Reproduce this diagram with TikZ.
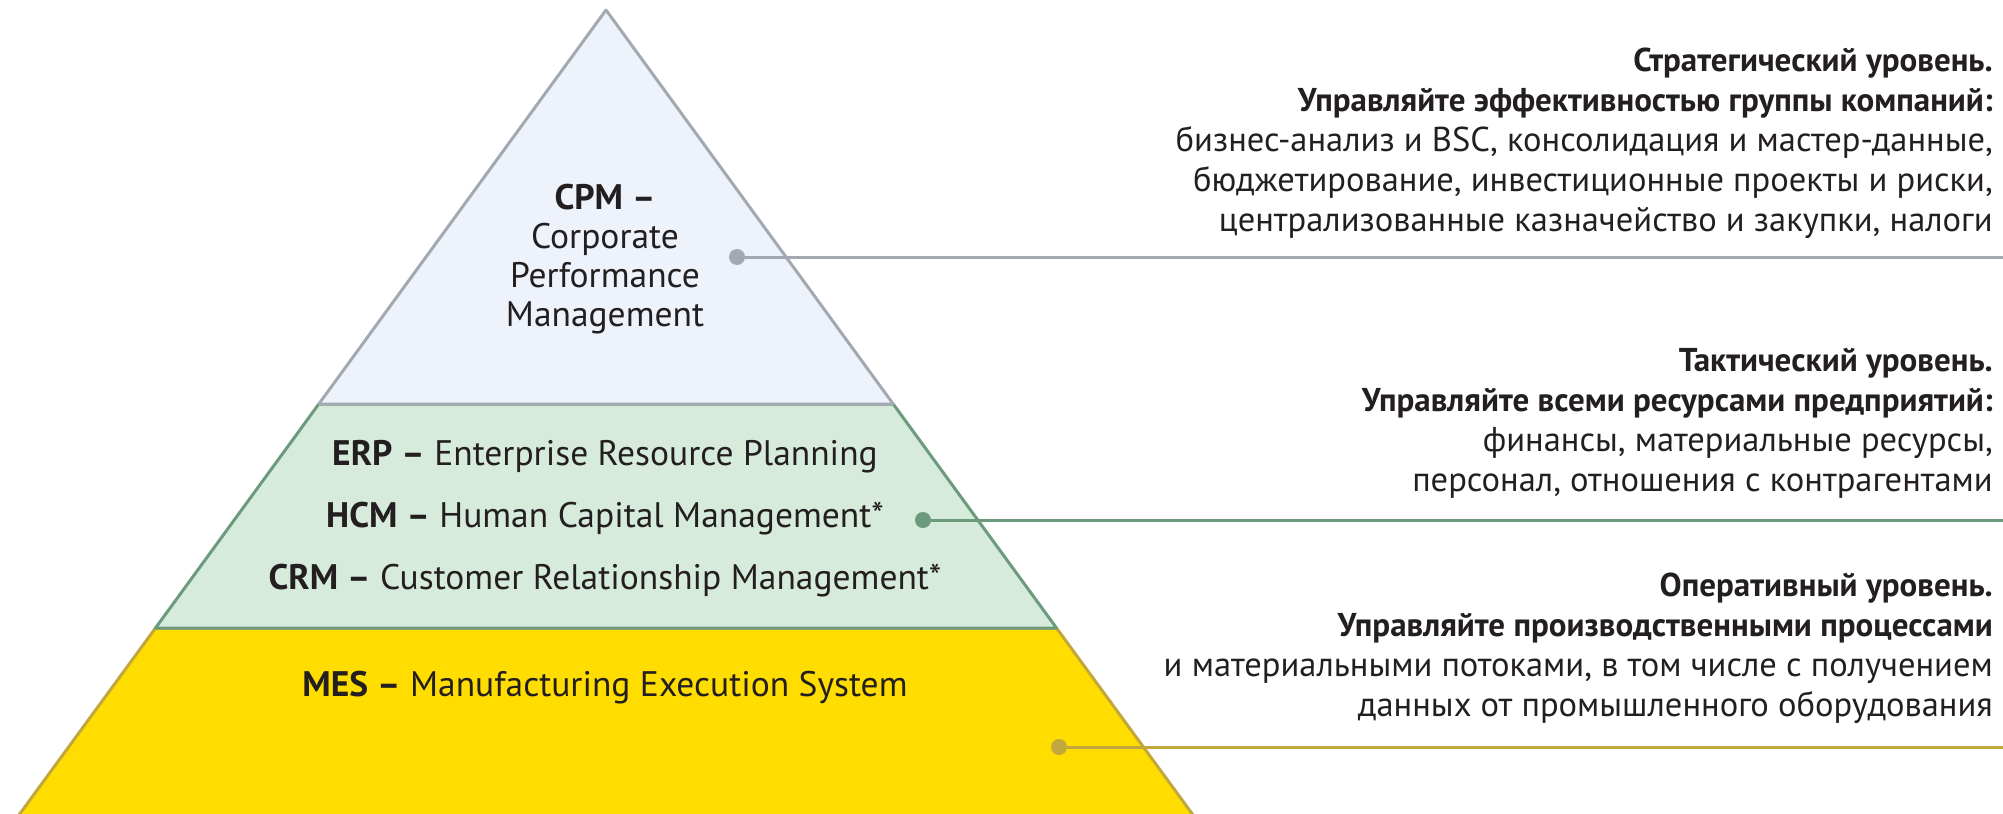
\documentclass[tikz,border=0pt]{standalone}
\usepackage{fontspec}
\setmainfont{PT Sans}
\usetikzlibrary{positioning,calc}

\definecolor{cpmfill}{HTML}{EEF3FB}
\definecolor{cpmline}{HTML}{A3A9B2}
\definecolor{erpfill}{HTML}{D7EBDC}
\definecolor{erpline}{HTML}{6C9A7C}
\definecolor{mesfill}{HTML}{FFDD00}
\definecolor{mesline}{HTML}{C2A73C}
\definecolor{txt}{HTML}{231F20}

\newcommand{\lvlhead}[1]{{\fontsize{33}{40}\selectfont\bfseries #1}}

\tikzset{
  band/.style={line width=3pt, line join=round},
  dot/.style={circle, fill=#1, inner sep=0pt, minimum size=16pt},
  lead/.style={line width=3pt, draw=#1},
  lvl/.style={align=right, anchor=north east, inner sep=0pt, text=txt,
    font=\fontsize{34.5}{40}\selectfont},
  sys/.style={align=center, inner sep=0pt, text=txt,
    font=\fontsize{35.5}{39}\selectfont},
}

\begin{document}
\begin{tikzpicture}[x=1pt,y=-1pt]
  % Pirâmide dos níveis de gestão
  \useasboundingbox (0,0) rectangle (2003,814);

  \filldraw[band, fill=mesfill, draw=mesline] (155.5,628) -- (1056.5,628) -- (1204,830) -- (8,830) -- cycle;
  \filldraw[band, fill=erpfill, draw=erpline] (318.8,404) -- (893.2,404) -- (1056.5,628) -- (155.5,628) -- cycle;
  \filldraw[band, fill=cpmfill, draw=cpmline] (606,10) -- (893.2,404) -- (318.8,404) -- cycle;

  \node[sys] (cpm) at (605,259) {\textbf{CPM –}\\Corporate\\Performance\\Management};
  \node[sys] (erp) at (605,457) {\textbf{ERP –} Enterprise Resource Planning};
  \node[sys] (hcm) at (605,519) {\textbf{HCM –} Human Capital Management*};
  \node[sys] (crm) at (605,581) {\textbf{CRM –} Customer Relationship Management*};
  \node[sys] (mes) at (605,688) {\textbf{MES –} Manufacturing Execution System};

  \node[dot=cpmline] (cpmdot) at (737,257) {};
  \node[dot=erpline] (hcmdot) at (923,520) {};
  \node[dot=mesline] (mesdot) at (1059,747) {};
  \coordinate (cpmend) at (2003,257);
  \coordinate (hcmend) at (2003,520);
  \coordinate (mesend) at (2003,747);
  \draw[lead=cpmline] (cpmdot) -- (cpmend);
  \draw[lead=erpline] (hcmdot) -- (hcmend);
  \draw[lead=mesline] (mesdot) -- (mesend);

  \node[lvl] (strat) at (1993,48) {\lvlhead{Стратегический уровень.}\\
    \lvlhead{Управляйте эффективностью группы компаний:}\\
    бизнес-анализ и BSC, консолидация и мастер-данные,\\
    бюджетирование, инвестиционные проекты и риски,\\
    централизованные казначейство и закупки, налоги};
  \node[lvl] (takt) at (1993,348) {\lvlhead{Тактический уровень.}\\
    \lvlhead{Управляйте всеми ресурсами предприятий:}\\
    финансы, материальные ресурсы,\\
    персонал, отношения с контрагентами};
  \node[lvl] (oper) at (1993,573) {\lvlhead{Оперативный уровень.}\\
    \lvlhead{Управляйте производственными процессами}\\
    и материальными потоками, в том числе с получением\\
    данных от промышленного оборудования};
\end{tikzpicture}
\end{document}
